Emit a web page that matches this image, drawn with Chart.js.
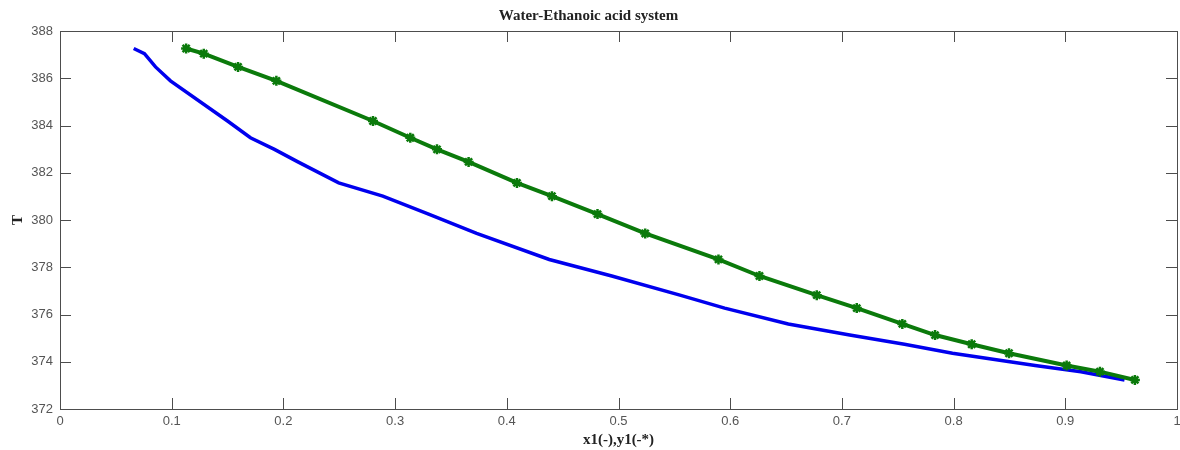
<!DOCTYPE html>
<html>
<head>
<meta charset="utf-8">
<script src="https://cdn.jsdelivr.net/npm/chart.js@4/dist/chart.umd.min.js"></script>
<style>
    html, body { margin: 0; padding: 0; background: #fff; }
    #wrap { width: 1180px; height: 450px; }
</style>
</head>
<body>
<div id="wrap"><canvas id="c" width="1180" height="450"></canvas></div>
<script>
// temperatures (K) shared by liquid and vapour curves
const T = [387.26, 387.04, 386.48, 385.89, 384.19, 383.48, 382.99, 382.46, 381.57, 381.01, 380.25, 379.43,
    378.33, 377.63, 376.82, 376.27, 375.60, 375.13, 374.74, 374.36, 373.84, 373.58, 373.23];
// liquid mole fraction x1 (blue line)
const x1 = [0.066, 0.0756, 0.0855, 0.0989, 0.150, 0.1705, 0.192, 0.213, 0.2495, 0.289, 0.330, 0.373,
    0.438, 0.494, 0.555, 0.595, 0.652, 0.707, 0.756, 0.799, 0.873, 0.914, 0.953];
// vapour mole fraction y1 (green line with stars)
const y1 = [0.1129, 0.1287, 0.1594, 0.1937, 0.2802, 0.3136, 0.3375, 0.3658, 0.4091, 0.4404, 0.4812, 0.5239,
    0.5895, 0.6262, 0.6775, 0.7133, 0.7541, 0.7834, 0.8162, 0.8496, 0.9012, 0.9310, 0.9623];

const xTicks = [0, 0.1, 0.2, 0.3, 0.4, 0.5, 0.6, 0.7, 0.8, 0.9, 1];
const xTickLabels = ['0', '0.1', '0.2', '0.3', '0.4', '0.5', '0.6', '0.7', '0.8', '0.9', '1'];
const yTicks = [372, 374, 376, 378, 380, 382, 384, 386, 388];

const titleText = 'Water-Ethanoic acid system';
const xTitle = 'x1(-),y1(-*)';
const yTitle = 'T';

const AXIS = '#4d4d4d';
const serif = '"Liberation Serif", "Times New Roman", serif';
const sans = '"Liberation Sans", Arial, sans-serif';

// matlab style box with ticks pointing inwards on all four sides
const innerTicks = {
    id: 'innerTicks',
    afterDraw(chart) {
        const { ctx, chartArea: a, scales } = chart;
        const len = 11;
        ctx.save();
        ctx.strokeStyle = AXIS;
        ctx.lineWidth = 1;
        ctx.beginPath();
        for (const v of xTicks) {
            const px = Math.round(scales.x.getPixelForValue(v)) + 0.5;
            ctx.moveTo(px, a.bottom); ctx.lineTo(px, a.bottom - len);
            ctx.moveTo(px, a.top); ctx.lineTo(px, a.top + len);
        }
        for (const v of yTicks) {
            const py = Math.round(scales.y.getPixelForValue(v)) + 0.5;
            ctx.moveTo(a.left, py); ctx.lineTo(a.left + len, py);
            ctx.moveTo(a.right, py); ctx.lineTo(a.right - len, py);
        }
        ctx.stroke();
        ctx.strokeRect(Math.round(a.left) + 0.5, Math.round(a.top) + 0.5,
            Math.round(a.right - a.left), Math.round(a.bottom - a.top));
        ctx.restore();
    }
};

new Chart(document.getElementById('c').getContext('2d'), {
    type: 'scatter',
    data: {
        datasets: [{
            label: 'y1',
            order: 0,
            data: y1.map((v, i) => ({ x: v, y: T[i] })),
            showLine: true,
            borderColor: '#0b7a0b',
            backgroundColor: '#0b7a0b',
            borderWidth: 4,
            pointStyle: 'star',
            pointRadius: 5,
            pointBorderWidth: 2.5,
            pointBorderColor: '#0b7a0b',
            tension: 0,
        }, {
            label: 'x1',
            order: 1,
            data: x1.map((v, i) => ({ x: v, y: T[i] })),
            showLine: true,
            borderColor: '#0000ee',
            backgroundColor: '#0000ee',
            borderWidth: 3.5,
            pointRadius: 0,
            tension: 0,
        }]
    },
    options: {
        responsive: false,
        animation: false,
        layout: { autoPadding: false, padding: { left: 0, right: 3, top: 0, bottom: 0 } },
        plugins: {
            legend: { display: false },
            tooltip: { enabled: false },
            title: {
                display: true,
                text: titleText,
                color: '#222',
                font: { family: serif, size: 15, weight: 'bold', lineHeight: 1.2 },
                padding: { top: 7, bottom: 6 },
            },
        },
        scales: {
            x: {
                type: 'linear',
                min: 0, max: 1,
                afterBuildTicks: s => { s.ticks = xTicks.map(v => ({ value: v })); },
                afterFit: s => { s.height = 41; s.paddingLeft = 0; s.paddingRight = 0; },
                grid: { display: false, drawTicks: false },
                border: { display: false },
                ticks: {
                    padding: 5,
                    color: '#555',
                    font: { family: sans, size: 13 },
                    maxRotation: 0,
                    autoSkip: false,
                    callback: (v, i) => xTickLabels[i],
                },
                title: {
                    display: true,
                    text: xTitle,
                    color: '#222',
                    font: { family: serif, size: 15, weight: 'bold', lineHeight: 1.2 },
                    padding: { top: 0, bottom: 1 },
                },
            },
            y: {
                type: 'linear',
                min: 372, max: 388,
                afterBuildTicks: s => { s.ticks = yTicks.map(v => ({ value: v })); },
                afterFit: s => { s.width = 60; s.paddingTop = 0; s.paddingBottom = 0; },
                grid: { display: false, drawTicks: false },
                border: { display: false },
                ticks: {
                    padding: 7,
                    color: '#555',
                    font: { family: sans, size: 13 },
                    autoSkip: false,
                },
                title: {
                    display: true,
                    text: yTitle,
                    color: '#222',
                    font: { family: serif, size: 15, weight: 'bold', lineHeight: 1.2 },
                    padding: { top: 9, bottom: 0 },
                },
            },
        },
    },
    plugins: [innerTicks],
});
</script>
</body>
</html>
